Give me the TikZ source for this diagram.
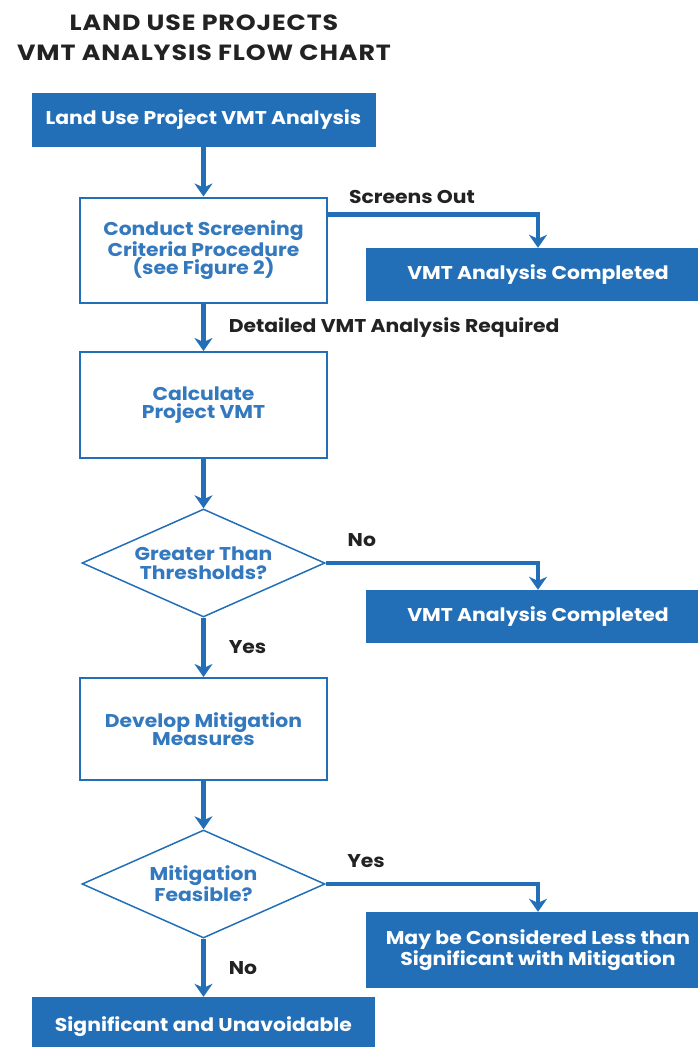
\documentclass[tikz,border=0pt]{standalone}
\usepackage{fontspec}
\setmainfont{Poppins}[FakeStretch=1.1]
\newfontfamily\titlefont{Poppins}[FakeStretch=1.15, LetterSpace=4]
\usepackage{xcolor}
\usetikzlibrary{arrows.meta, calc, positioning, shapes.geometric}

\definecolor{vmtblue}{HTML}{236FB7}
\definecolor{vmttext}{HTML}{3479BE}
\definecolor{vmtdark}{HTML}{222222}

\newcommand{\boxfont}{\bfseries\fontsize{18.5}{18.5}\selectfont}

\begin{document}
\begin{tikzpicture}[x=1pt, y=-1pt,
          flow/.style = {draw=vmtblue, line width=4.5pt,
                         -{Stealth[length=13pt, width=18pt, inset=4pt]}},
          fillbox/.style = {rectangle, fill=vmtblue, text=white, font=\boxfont,
                            align=center, inner sep=0pt, minimum width=344pt},
          linebox/.style = {rectangle, draw=vmtblue, line width=2pt, text=vmttext,
                            font=\boxfont, align=center, inner sep=0pt,
                            minimum width=247pt},
          decide/.style = {diamond, draw=vmtblue, line width=1.5pt, text=vmttext,
                           font=\boxfont, align=center, inner sep=0pt, aspect=2.2,
                           minimum width=243pt, minimum height=108pt},
          lbl/.style = {text=vmtdark, font=\boxfont, inner sep=2pt} ]

   \useasboundingbox (0,0) rectangle (698,1047);

   \node (title) [font=\titlefont\bfseries\fontsize{22}{30}\selectfont, text=vmtdark,
                  align=center] at (204,38) {LAND USE PROJECTS\\VMT ANALYSIS FLOW CHART};

   % main column
   \node (start)  [fillbox, minimum height=54pt]  at (203.5,120) {Land Use Project VMT Analysis};
   \node (screen) [linebox, minimum height=105pt] at (203.5,250)
         {Conduct Screening\\Criteria Procedure\\(see Figure 2)};
   \node (calc)   [linebox, minimum height=106pt] at (203.5,405) {Calculate\\Project VMT};
   \node (thresh) [decide] at (203.5,563) {Greater Than\\Thresholds?};
   \node (mitig)  [linebox, minimum height=102pt] at (203.5,729) {Develop Mitigation\\Measures};
   \node (feas)   [decide] at (203.5,884) {Mitigation\\Feasible?};
   \node (sig)    [fillbox, minimum width=343pt, minimum height=60pt] at (203.5,1027)
         {Significant and Unavoidable};

   % side outcomes
   \node (done1) [fillbox, minimum height=53pt] at (538,274.5) {VMT Analysis Completed};
   \node (done2) [fillbox, minimum height=53pt] at (538,616.5) {VMT Analysis Completed};
   \node (less)  [fillbox, minimum height=76pt] at (538,950)
         {May be Considered Less than\\Significant with Mitigation};

   \coordinate (soStart) at ($(screen.north east)+(0,18)$);

   \draw[flow] (start) -- (screen);
   \draw[flow] (soStart) -| node[lbl, pos=0.2, above=7pt] (soLbl) {Screens Out} (done1);
   \draw[flow] (screen) -- node[lbl, right=21pt] (reqLbl) {Detailed VMT Analysis Required} (calc);
   \draw[flow] (calc) -- (thresh);
   \draw[flow] (thresh.east) -| node[lbl, pos=0.085, above=12pt] (noLbl) {No} (done2);
   \draw[flow] (thresh) -- node[lbl, right=21pt] (yesLbl) {Yes} (mitig);
   \draw[flow] (mitig) -- (feas);
   \draw[flow] (feas.east) -| node[lbl, pos=0.095, above=12pt] (yes2Lbl) {Yes} (less);
   \draw[flow] (feas) -- node[lbl, right=21pt] (no2Lbl) {No} (sig);
\end{tikzpicture}
\end{document}
